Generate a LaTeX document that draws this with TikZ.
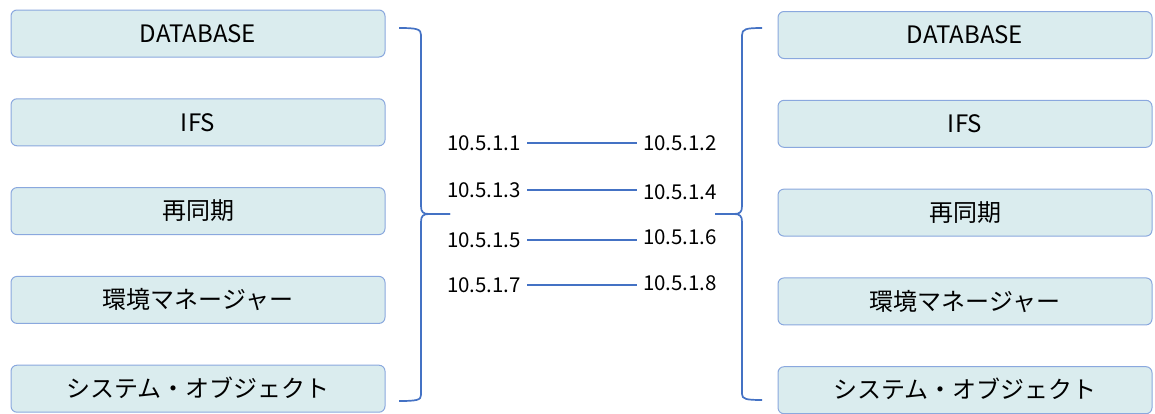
\documentclass[tikz,border=0pt]{standalone}
\usepackage{fontspec}
\setmainfont{Noto Sans CJK JP}
\usetikzlibrary{positioning}

\definecolor{boxfill}{HTML}{DAECEE}
\definecolor{boxline}{HTML}{8AA8DE}
\definecolor{linkblue}{HTML}{4472C4}

\tikzset{
  subsys/.style={draw=boxline, fill=boxfill, line width=1pt, rounded corners=6pt,
                 minimum width=374pt, minimum height=47pt,
                 font=\fontsize{24}{24}\selectfont, text height=17.5pt, text depth=0pt},
  addr/.style={font=\fontsize{20.5}{20.5}\selectfont, inner xsep=6pt, inner ysep=0pt,
               text height=15pt, text depth=0pt},
  link/.style={draw=linkblue, line width=1.7pt},
  brace/.style={draw=linkblue, line width=1.7pt}
}

\begin{document}
\begin{tikzpicture}[x=1pt,y=-1pt,node distance=40.8pt]
    \useasboundingbox (0,0) rectangle (1155,413);

    % left node
    \node[subsys] (ldb) at (198,33.5) {DATABASE};
    \node[subsys] (lifs)  [below=of ldb]   {IFS};
    \node[subsys] (lsync) [below=of lifs]  {再同期};
    \node[subsys] (lenv)  [below=of lsync] {環境マネージャー};
    \node[subsys] (lobj)  [below=of lenv]  {システム・オブジェクト};

    % right node
    \node[subsys] (rdb) at (965,35) {DATABASE};
    \node[subsys] (rifs)  [below=of rdb]   {IFS};
    \node[subsys] (rsync) [below=of rifs]  {再同期};
    \node[subsys] (renv)  [below=of rsync] {環境マネージャー};
    \node[subsys] (robj)  [below=of renv]  {システム・オブジェクト};

    % braces grouping each side
    \draw[brace] (399,28) .. controls (417,28) and (421,29) .. (421,35) -- (421,206)
          .. controls (421,212) and (423,214) .. (429,214) -- (450,214);
    \draw[brace] (450,214) -- (429,214) .. controls (423,214) and (421,216) .. (421,222)
          -- (421,395) .. controls (421,400) and (417,401) .. (399,401);
    \draw[brace] (762,28) .. controls (746,28) and (742,29) .. (742,35) -- (742,206)
          .. controls (742,212) and (740,214) .. (734,214) -- (715,214);
    \draw[brace] (715,214) -- (734,214) .. controls (740,214) and (742,216) .. (742,222)
          -- (742,394) .. controls (742,399) and (746,400) .. (762,400);

    % replication links
    \foreach \i/\ya/\yb/\la/\lb in {1/143/143/10.5.1.1/10.5.1.2,
                                    2/190/192/10.5.1.3/10.5.1.4,
                                    3/240/237/10.5.1.5/10.5.1.6,
                                    4/285/283/10.5.1.7/10.5.1.8} {
        \node[addr] (a\i) at (484,\ya) {\la};
        \node[addr] (b\i) at (680,\yb) {\lb};
        \draw[link] (a\i.east) -- (a\i.east -| b\i.west);
    }
\end{tikzpicture}
\end{document}
